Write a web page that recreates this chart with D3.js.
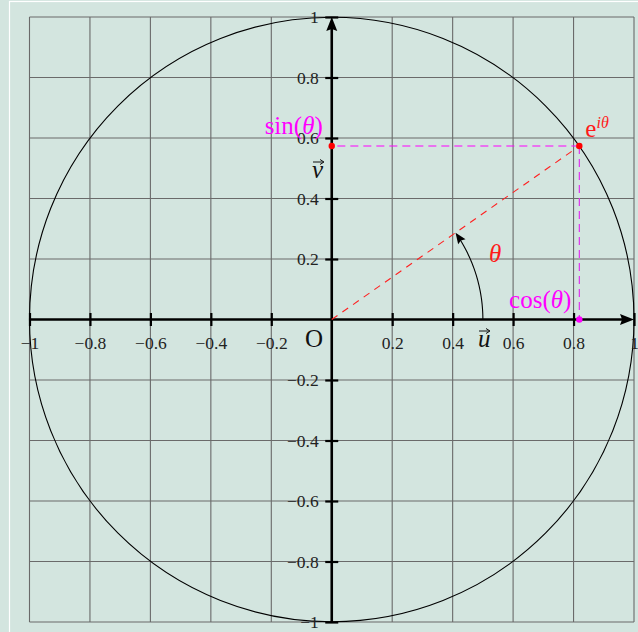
<!DOCTYPE html>
<html>
<head>
<meta charset="utf-8">
<script src="https://cdn.jsdelivr.net/npm/d3@7/dist/d3.min.js"></script>
<style>
  html, body { margin: 0; padding: 0; background: #d3e5df; }
  svg { display: block; }
  text { font-family: "Liberation Serif", "DejaVu Serif", serif; }
</style>
</head>
<body>
<svg id="chart" width="638" height="632"></svg>
<script>
// Unit circle: grid, axes, the point e^{iθ} and its projections.
const gridValues = [-1, -0.8, -0.6, -0.4, -0.2, 0, 0.2, 0.4, 0.6, 0.8, 1];
const xTickValues = [-1, -0.8, -0.6, -0.4, -0.2, 0.2, 0.4, 0.6, 0.8, 1];
const xTickLabels = ["\u22121", "\u22120.8", "\u22120.6", "\u22120.4", "\u22120.2", "0.2", "0.4", "0.6", "0.8", "1"];
const yTickValues = [-1, -0.8, -0.6, -0.4, -0.2, 0.2, 0.4, 0.6, 0.8, 1];
const yTickLabels = ["\u22121", "\u22120.8", "\u22120.6", "\u22120.4", "\u22120.2", "0.2", "0.4", "0.6", "0.8", "1"];
const thetaDeg = 35;          // angle of the point on the circle
const arcRadius = 0.5;        // radius of the θ arrow arc

const theta = thetaDeg * Math.PI / 180;
const cosT = Math.cos(theta), sinT = Math.sin(theta);

const svg = d3.select("#chart");
const x = d3.scaleLinear().domain([-1, 1]).range([29.5, 634]);
const y = d3.scaleLinear().domain([-1, 1]).range([622, 17]);

// Page frame
svg.append("rect").attr("x", 0).attr("y", 0).attr("width", 638).attr("height", 632).attr("fill", "#d3e5df");
svg.append("rect").attr("x", 9.5).attr("y", 1.5).attr("width", 700).attr("height", 700)
  .attr("fill", "none").attr("stroke", "#ffffff").attr("stroke-width", 1.2);

// Grid
const grid = svg.append("g").attr("stroke", "#6a6a6a").attr("stroke-width", 1.1);
grid.selectAll("line.v").data(gridValues).join("line").attr("class", "v")
  .attr("x1", d => x(d)).attr("x2", d => x(d)).attr("y1", y(-1)).attr("y2", y(1));
grid.selectAll("line.h").data(gridValues).join("line").attr("class", "h")
  .attr("y1", d => y(d)).attr("y2", d => y(d)).attr("x1", x(-1)).attr("x2", x(1));

// Unit circle
svg.append("circle").attr("cx", x(0)).attr("cy", y(0)).attr("r", x(1) - x(0))
  .attr("fill", "none").attr("stroke", "#000").attr("stroke-width", 1.1);

// Axes lines
svg.append("line").attr("x1", x(-1)).attr("x2", x(1) - 6).attr("y1", y(0)).attr("y2", y(0))
  .attr("stroke", "#000").attr("stroke-width", 2.6);
svg.append("line").attr("x1", x(0)).attr("x2", x(0)).attr("y1", y(-1)).attr("y2", y(1) + 6)
  .attr("stroke", "#000").attr("stroke-width", 2.6);

function arrowHead(tipX, tipY, angle, len, half) {
  // angle: direction the arrow points, in screen radians
  const ca = Math.cos(angle), sa = Math.sin(angle);
  const bx = tipX - len * ca, by = tipY - len * sa;
  const nx = -sa, ny = ca;
  const mx = tipX - len * 0.85 * ca, my = tipY - len * 0.85 * sa;
  return `M${tipX},${tipY} L${bx + half * nx},${by + half * ny} L${mx},${my} L${bx - half * nx},${by - half * ny} Z`;
}
svg.append("path").attr("d", arrowHead(x(1), y(0), 0, 14, 5.5)).attr("fill", "#000");
svg.append("path").attr("d", arrowHead(x(0), y(1), -Math.PI / 2, 14, 5.5)).attr("fill", "#000");

// X axis ticks and labels
const xAxis = d3.axisBottom(x).tickValues(xTickValues)
  .tickFormat((d, i) => xTickLabels[i]).tickSizeInner(6.5).tickSizeOuter(0).tickPadding(0);
const gx = svg.append("g").attr("transform", `translate(0,${y(0)})`).call(xAxis);
gx.select(".domain").remove();
gx.selectAll(".tick line").attr("y1", -6.5).attr("y2", 6.5).attr("stroke", "#000").attr("stroke-width", 2.2);
gx.selectAll(".tick text").attr("y", 29).attr("dy", 0).attr("fill", "#222")
  .style("font-size", "17.5px").style("font-family", "'Liberation Serif', serif");

// Y axis ticks and labels
const yAxis = d3.axisLeft(y).tickValues(yTickValues)
  .tickFormat((d, i) => yTickLabels[i]).tickSizeInner(6.5).tickSizeOuter(0).tickPadding(0);
const gy = svg.append("g").attr("transform", `translate(${x(0)},0)`).call(yAxis);
gy.select(".domain").remove();
gy.selectAll(".tick line").attr("x1", -6.5).attr("x2", 6.5).attr("stroke", "#000").attr("stroke-width", 2.2);
gy.selectAll(".tick text").attr("x", -13).attr("dy", "0.34em").attr("fill", "#222")
  .style("font-size", "17.5px").style("font-family", "'Liberation Serif', serif");

// Dashed radius and projections
svg.append("line").attr("x1", x(0)).attr("y1", y(0)).attr("x2", x(cosT)).attr("y2", y(sinT))
  .attr("stroke", "#ff2020").attr("stroke-width", 1.1).attr("stroke-dasharray", "7,6");
svg.append("line").attr("x1", x(cosT)).attr("y1", y(sinT)).attr("x2", x(0)).attr("y2", y(sinT))
  .attr("stroke", "#ff00ff").attr("stroke-width", 1.2).attr("stroke-dasharray", "8,5");
svg.append("line").attr("x1", x(cosT)).attr("y1", y(sinT)).attr("x2", x(cosT)).attr("y2", y(0))
  .attr("stroke", "#dd33ee").attr("stroke-width", 1.2).attr("stroke-dasharray", "8,5");

// θ arc with arrow
const arcPts = d3.range(0, 1.0001, 0.02).map(t => [x(arcRadius * Math.cos(t * theta * 0.93)), y(arcRadius * Math.sin(t * theta * 0.93))]);
svg.append("path").attr("d", d3.line()(arcPts)).attr("fill", "none").attr("stroke", "#000").attr("stroke-width", 1.1);
const tipX = x(arcRadius * Math.cos(theta)), tipY = y(arcRadius * Math.sin(theta));
svg.append("path").attr("d", arrowHead(tipX, tipY, Math.atan2(-Math.cos(theta), -Math.sin(theta)), 11, 4.5)).attr("fill", "#000");

// Points
svg.append("circle").attr("cx", x(0)).attr("cy", y(sinT)).attr("r", 3.2).attr("fill", "#ff0000");
svg.append("circle").attr("cx", x(cosT)).attr("cy", y(sinT)).attr("r", 3.2).attr("fill", "#ff0000");
svg.append("circle").attr("cx", x(cosT)).attr("cy", y(0)).attr("r", 3.2).attr("fill", "#ff00ff");

// Labels
svg.append("text").attr("x", x(0) - 9).attr("y", y(sinT) - 12).attr("text-anchor", "end")
  .attr("fill", "#ff00ff").style("font-size", "25px")
  .html('sin(<tspan font-style="italic">θ</tspan>)');
svg.append("text").attr("x", x(cosT) - 8).attr("y", y(0) - 12).attr("text-anchor", "end")
  .attr("fill", "#ff00ff").style("font-size", "25px")
  .html('cos(<tspan font-style="italic">θ</tspan>)');
svg.append("text").attr("x", x(cosT) + 6).attr("y", y(sinT) - 9)
  .attr("fill", "#ff1a1a").style("font-size", "25px")
  .html('e<tspan dy="-9" font-size="16px" font-style="italic">iθ</tspan>');
svg.append("text").attr("x", 489).attr("y", 262).attr("fill", "#ff1a1a")
  .style("font-size", "25px").style("font-style", "italic").text("θ");
svg.append("text").attr("x", 305).attr("y", 347).attr("fill", "#111")
  .style("font-size", "25px").text("O");

// Vector labels: letter with a small arrow above
function vecLabel(px, py, letter) {
  const g = svg.append("g");
  g.append("text").attr("x", px).attr("y", py).attr("fill", "#111")
    .style("font-size", "25px").style("font-style", "italic").text(letter);
  const ax0 = px + 1, ax1 = px + 12, ay = py - 16;
  g.append("line").attr("x1", ax0).attr("x2", ax1 - 1).attr("y1", ay).attr("y2", ay)
    .attr("stroke", "#111").attr("stroke-width", 1);
  g.append("path").attr("d", `M${ax1},${ay} L${ax1 - 4},${ay - 2.5} M${ax1},${ay} L${ax1 - 4},${ay + 2.5}`)
    .attr("stroke", "#111").attr("stroke-width", 1).attr("fill", "none");
}
vecLabel(312, 178, "v");
vecLabel(478, 347, "u");
</script>
</body>
</html>
